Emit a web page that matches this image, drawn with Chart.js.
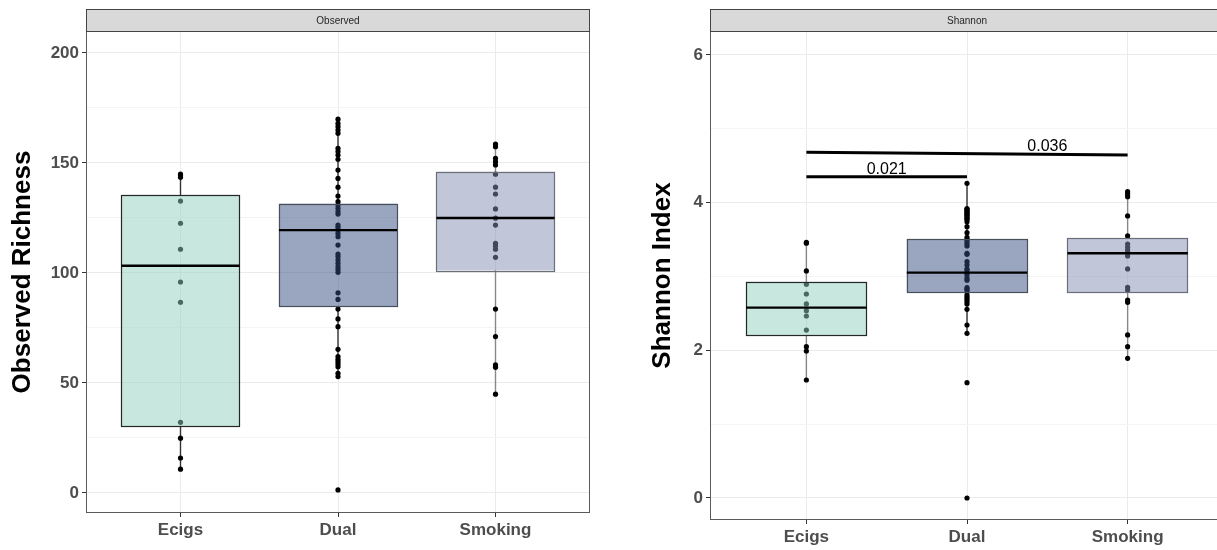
<!DOCTYPE html>
<html><head><meta charset="utf-8">
<script src="https://cdn.jsdelivr.net/npm/chart.js@4.4.0/dist/chart.umd.min.js"></script>
<style>
html,body{margin:0;padding:0;width:1217px;height:550px;overflow:hidden;background:#fff;position:relative}
#c1{position:absolute;left:0;top:0;width:600px;height:550px}
#c2{position:absolute;left:640px;top:0;width:600px;height:550px}
</style></head><body>
<canvas id="c1" width="600" height="550"></canvas>
<canvas id="c2" width="600" height="550"></canvas>
<script>
// ---------- data ----------
const categories = ['Ecigs', 'Dual', 'Smoking'];

// Observed richness: individual samples
const obsEcigs = [145, 144.5, 143.5, 132.7, 122.6, 110.8, 95.9, 86.7, 32.1, 24.9, 15.9, 10.8];
const obsDual = [169.9, 168, 166.5, 165, 163.5, 156.7, 155.2, 153.6, 151.7, 146.8, 143, 139, 135, 132.4, 130.9,
  129.4, 127.9, 126.8, 121.8, 120.7, 119.5, 118, 116.5, 112.7, 108.6, 107.4, 105.9, 104.4, 102.9, 101.7, 100.3,
  91, 88, 83.6, 79.1, 75.6, 65.3, 62, 60.8, 59.7, 58.6, 57.4, 54.4, 52.9, 1.4];
const obsSmoking = [158.6, 157.4, 152.1, 150.6, 149.1, 144.9, 139, 135.9, 129.1, 124.9, 121.8, 113.5, 112.3,
  110.8, 107.1, 83.6, 71.1, 58.2, 57.1, 44.9];
// Observed richness: box statistics [Ecigs, Dual, Smoking]
const obsLow = [10.8, 52.9, 44.9];
const obsQ1 = [30.4, 85, 101.2];
const obsMedian = [103.3, 119.5, 125];
const obsQ3 = [135.5, 131.5, 146];
const obsHigh = [145, 170, 158.6];

// Shannon index: individual samples
const shaEcigs = [3.463, 3.45, 3.075, 2.894, 2.763, 2.628, 2.537, 2.465, 2.275, 2.05, 1.991, 1.598];
const shaDual = [4.262, 3.92, 3.91, 3.89, 3.878, 3.86, 3.847, 3.83, 3.81, 3.79, 3.775, 3.743, 3.675, 3.594,
  3.531, 3.5, 3.472, 3.44, 3.413, 3.314, 3.3, 3.201, 3.156, 3.1, 3.088, 3.05, 3.02, 2.975, 2.95, 2.849, 2.83,
  2.808, 2.75, 2.72, 2.691, 2.66, 2.628, 2.555, 2.343, 2.23, 1.562, 0.0];
const shaSmoking = [4.149, 4.118, 4.081, 3.82, 3.549, 3.44, 3.395, 3.359, 3.323, 3.278, 3.102, 2.853, 2.817,
  2.682, 2.65, 2.208, 2.05, 1.892];
const shaLow = [1.598, 2.23, 1.892];
const shaQ1 = [2.208, 2.786, 2.781];
const shaMedian = [2.578, 3.052, 3.314];
const shaQ3 = [2.93, 3.508, 3.517];
const shaHigh = [3.463, 4.262, 4.149];

// significance brackets on the Shannon panel
const sigFrom = [1, 1];
const sigTo = [2, 3];
const sigYStart = [4.352, 4.683];
const sigYEnd = [4.352, 4.645];
const sigLabelX = [1.5, 2.5];
const sigLabels = ['0.021', '0.036'];

// axis ticks
const obsMajorTicks = [0, 50, 100, 150, 200];
const obsMinorTicks = [25, 75, 125, 175];
const shaMajorTicks = [0, 2, 4, 6];
const shaMinorTicks = [1, 3, 5];

// ---------- styles ----------
const NARROW = "'Liberation Sans Narrow','Arial Narrow','Liberation Sans',Arial,sans-serif";
const SANS = "'Liberation Sans',Arial,sans-serif";
const boxFill = ['rgba(145,209,191,0.5)', 'rgba(53,77,129,0.5)', 'rgba(131,143,179,0.5)'];
const boxEdge = ['#262626', '#4a4f5c', '#6b6e78'];

function panelPlugin(cfg) {
  return {
    id: 'panel' + cfg.name,
    beforeDatasetsDraw(chart) {
      const x = chart.scales.x, y = chart.scales.y, c = chart.ctx;
      c.save();
      for (let i = 0; i < 3; i++) {
        const px = x.getPixelForValue(i + 1);
        c.strokeStyle = cfg.whisker[i];
        c.lineWidth = 1.4;
        c.beginPath();
        c.moveTo(px, y.getPixelForValue(cfg.high[i]));
        c.lineTo(px, y.getPixelForValue(cfg.q3[i]));
        c.moveTo(px, y.getPixelForValue(cfg.q1[i]));
        c.lineTo(px, y.getPixelForValue(cfg.low[i]));
        c.stroke();
      }
      c.restore();
    },
    afterDatasetsDraw(chart) {
      const x = chart.scales.x, y = chart.scales.y, c = chart.ctx;
      c.save();
      for (let i = 0; i < 3; i++) {
        const l = x.getPixelForValue(i + 1 - 0.375), r = x.getPixelForValue(i + 1 + 0.375);
        const t = y.getPixelForValue(cfg.q3[i]), b = y.getPixelForValue(cfg.q1[i]);
        c.fillStyle = boxFill[i];
        c.fillRect(l, t, r - l, b - t);
        c.strokeStyle = boxEdge[i];
        c.lineWidth = 1.2;
        c.strokeRect(Math.round(l) + 0.5, Math.round(t) + 0.5, Math.round(r - l), Math.round(b - t));
        const m = y.getPixelForValue(cfg.median[i]);
        c.strokeStyle = '#000';
        c.lineWidth = 2.4;
        c.beginPath(); c.moveTo(l, m); c.lineTo(r, m); c.stroke();
      }
      if (cfg.sig) {
        for (let k = 0; k < sigLabels.length; k++) {
          const x1 = x.getPixelForValue(sigFrom[k]), x2 = x.getPixelForValue(sigTo[k]);
          const y1 = y.getPixelForValue(sigYStart[k]), y2 = y.getPixelForValue(sigYEnd[k]);
          c.strokeStyle = '#000'; c.lineWidth = 3;
          c.beginPath(); c.moveTo(x1, y1); c.lineTo(x2, y2); c.stroke();
          const lx = x.getPixelForValue(sigLabelX[k]);
          const ly = (y1 + y2) / 2;
          c.fillStyle = '#000';
          c.font = '16px ' + NARROW;
          c.textAlign = 'center'; c.textBaseline = 'alphabetic';
          c.fillText(sigLabels[k], lx, ly - 3);
        }
      }
      c.restore();
    },
    afterDraw(chart) {
      const a = chart.chartArea, c = chart.ctx;
      c.save();
      c.strokeStyle = '#5a5a5a'; c.lineWidth = 1;
      c.strokeRect(Math.round(a.left) + 0.5, Math.round(a.top) + 0.5, Math.round(a.right - a.left) - 1, Math.round(a.bottom - a.top) - 1);
      c.fillStyle = '#d9d9d9';
      c.fillRect(a.left, 9, a.right - a.left, a.top - 9);
      c.strokeStyle = '#444';
      c.strokeRect(Math.round(a.left) + 0.5, 9.5, Math.round(a.right - a.left) - 1, Math.round(a.top - 9));
      c.fillStyle = '#262626';
      c.font = '10px ' + NARROW;
      c.textAlign = 'center'; c.textBaseline = 'middle';
      c.fillText(cfg.strip, (a.left + a.right) / 2, 21);
      c.restore();
    }
  };
}

function makeChart(id, cfg) {
  const series = cfg.points.map((arr, i) => ({
    data: arr.map(v => ({ x: i + 1, y: v })),
    backgroundColor: '#000', borderWidth: 0, pointRadius: 2.6, pointHoverRadius: 2.6
  }));
  const allTicks = cfg.major.concat(cfg.minor).sort((a, b) => a - b);
  return new Chart(document.getElementById(id), {
    type: 'scatter',
    data: { datasets: series },
    options: {
      responsive: false, animation: false, events: [],
      layout: { padding: { top: 31, left: 0, right: cfg.padRight, bottom: 0 } },
      plugins: { legend: { display: false }, tooltip: { enabled: false } },
      scales: {
        x: {
          type: 'linear', min: 0.4, max: 3.6,
          afterBuildTicks: s => { s.ticks = categories.map((_, i) => ({ value: i + 1 })); },
          afterFit: s => { s.height = cfg.xHeight; },
          ticks: { callback: v => categories[v - 1], color: '#4d4d4d', padding: 3, maxRotation: 0, autoSkip: false,
            font: { family: NARROW, size: 17, weight: 'bold' } },
          grid: { color: '#ebebeb', lineWidth: 1, tickColor: '#333', tickLength: 4 },
          border: { display: false }
        },
        y: {
          type: 'linear', min: cfg.min, max: cfg.max,
          afterBuildTicks: s => { s.ticks = allTicks.map(v => ({ value: v })); },
          afterFit: s => { s.width = cfg.yWidth; },
          ticks: { callback: v => cfg.major.includes(v) ? String(v) : '', color: '#4d4d4d', padding: 3, autoSkip: false,
            font: { family: NARROW, size: 17, weight: 'bold' } },
          grid: {
            color: ctx => cfg.major.includes(ctx.tick.value) ? '#ebebeb' : '#f4f4f4',
            tickColor: ctx => cfg.major.includes(ctx.tick.value) ? '#333' : 'rgba(0,0,0,0)',
            tickLength: 4, lineWidth: 1
          },
          border: { display: false },
          title: { display: true, text: cfg.title, color: '#000', padding: { top: 7, bottom: 0 },
            font: { family: SANS, size: 26, weight: 'bold' } }
        }
      }
    },
    plugins: [panelPlugin(cfg)]
  });
}

makeChart('c1', {
  name: 'obs', strip: 'Observed', title: 'Observed Richness',
  points: [obsEcigs, obsDual, obsSmoking],
  low: obsLow, q1: obsQ1, median: obsMedian, q3: obsQ3, high: obsHigh,
  major: obsMajorTicks, minor: obsMinorTicks, min: -9.1, max: 210,
  whisker: ['#333', '#333', '#888'],
  padRight: 10, xHeight: 37, yWidth: 86, sig: false
});
makeChart('c2', {
  name: 'sha', strip: 'Shannon', title: 'Shannon Index',
  points: [shaEcigs, shaDual, shaSmoking],
  low: shaLow, q1: shaQ1, median: shaMedian, q3: shaQ3, high: shaHigh,
  major: shaMajorTicks, minor: shaMinorTicks, min: -0.298, max: 6.325,
  whisker: ['#888', '#333', '#888'],
  padRight: 16, xHeight: 30, yWidth: 70, sig: true
});
</script>
</body></html>
